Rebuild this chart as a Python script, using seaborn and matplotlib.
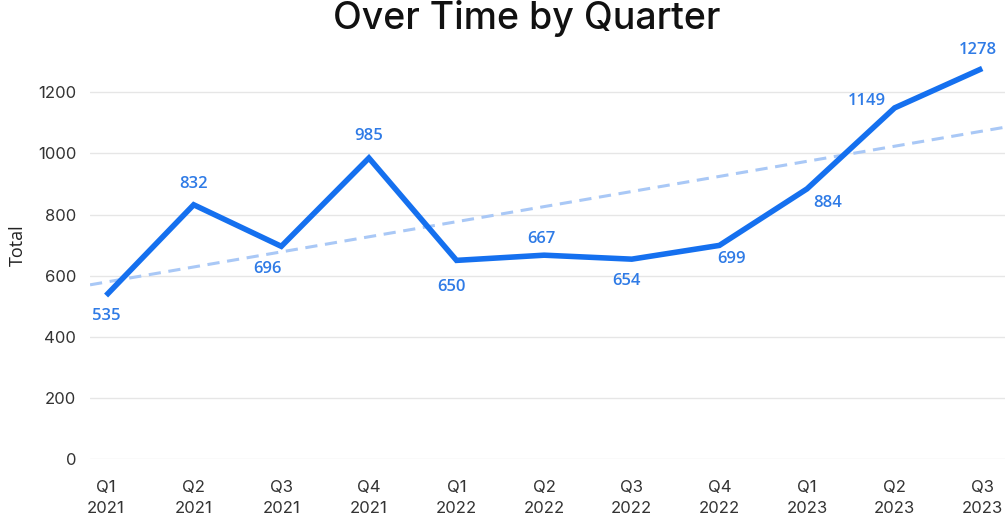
import matplotlib
matplotlib.use("Agg")
import matplotlib.pyplot as plt
import seaborn as sns
import pandas as pd

quarters = ["Q1\n2021", "Q2\n2021", "Q3\n2021", "Q4\n2021",
            "Q1\n2022", "Q2\n2022", "Q3\n2022", "Q4\n2022",
            "Q1\n2023", "Q2\n2023", "Q3\n2023"]
totals = [535, 832, 696, 985, 650, 667, 654, 699, 884, 1149, 1278]
trend_first = 579   # trend value read at Q1 2021
trend_last = 1073   # trend value read at Q3 2023
y_ticks = [0, 200, 400, 600, 800, 1000, 1200]

# label offsets in points (style only)
label_offsets = [(0, -15), (0, 15), (-10, -16), (0, 16), (-4, -19), (-2, 12),
                 (-4, -16), (9, -10), (15, -10), (-20, 5), (-3, 13)]

sns.set_theme(style="white")
plt.rcParams['font.family'] = ['Open Sans', 'DejaVu Sans']

df = pd.DataFrame({"idx": range(len(quarters)), "Total": totals})

fig = plt.figure(figsize=(10.05, 5.2), dpi=100)
ax = fig.add_axes([0.0896, 0.1173, 0.9104, 0.8227])

line_color = "#1570ef"
label_color = "#2f7be6"

ax.axline((0, trend_first), (len(quarters) - 1, trend_last), color="#a9c8f6",
          lw=2.2, ls=(0, (4, 2.5)), zorder=2)
sns.lineplot(data=df, x="idx", y="Total", ax=ax, color=line_color, lw=4,
             zorder=3, solid_capstyle="butt", solid_joinstyle="miter")

for i, v in enumerate(totals):
    dx, dy = label_offsets[i]
    ax.annotate(str(v), (i, v), xytext=(dx, dy), textcoords="offset points",
                ha="center", va="center", color=label_color, fontsize=12,
                fontweight="semibold", zorder=4)

ax.set_xlim(-0.183, 10.26)
ax.set_ylim(0, 1400)
ax.set_yticks(y_ticks)
ax.set_xticks(range(len(quarters)))
ax.set_xticklabels(quarters, fontsize=12, color="#333333", family=['Inter', 'DejaVu Sans'],
                   linespacing=1.55)
ax.set_yticklabels([str(t) for t in y_ticks], fontsize=12, color="#333333",
                   family=['Inter', 'DejaVu Sans'])
ax.grid(axis="y", color="#e6e6e6", lw=1)
ax.set_axisbelow(True)
for s in ax.spines.values():
    s.set_visible(False)
ax.tick_params(axis="x", length=0, pad=15)
ax.tick_params(axis="y", length=0, pad=10)
ax.set_xlabel("")
ax.set_ylabel("Total", fontsize=13, color="#222222", labelpad=8)

fig.text(0.524, 0.965, "Over Time by Quarter", ha="center", va="center",
         fontsize=27, fontweight="medium", color="#111111",
         family=['Inter', 'DejaVu Sans'])

fig.savefig("out.png", dpi=100, facecolor="white")
